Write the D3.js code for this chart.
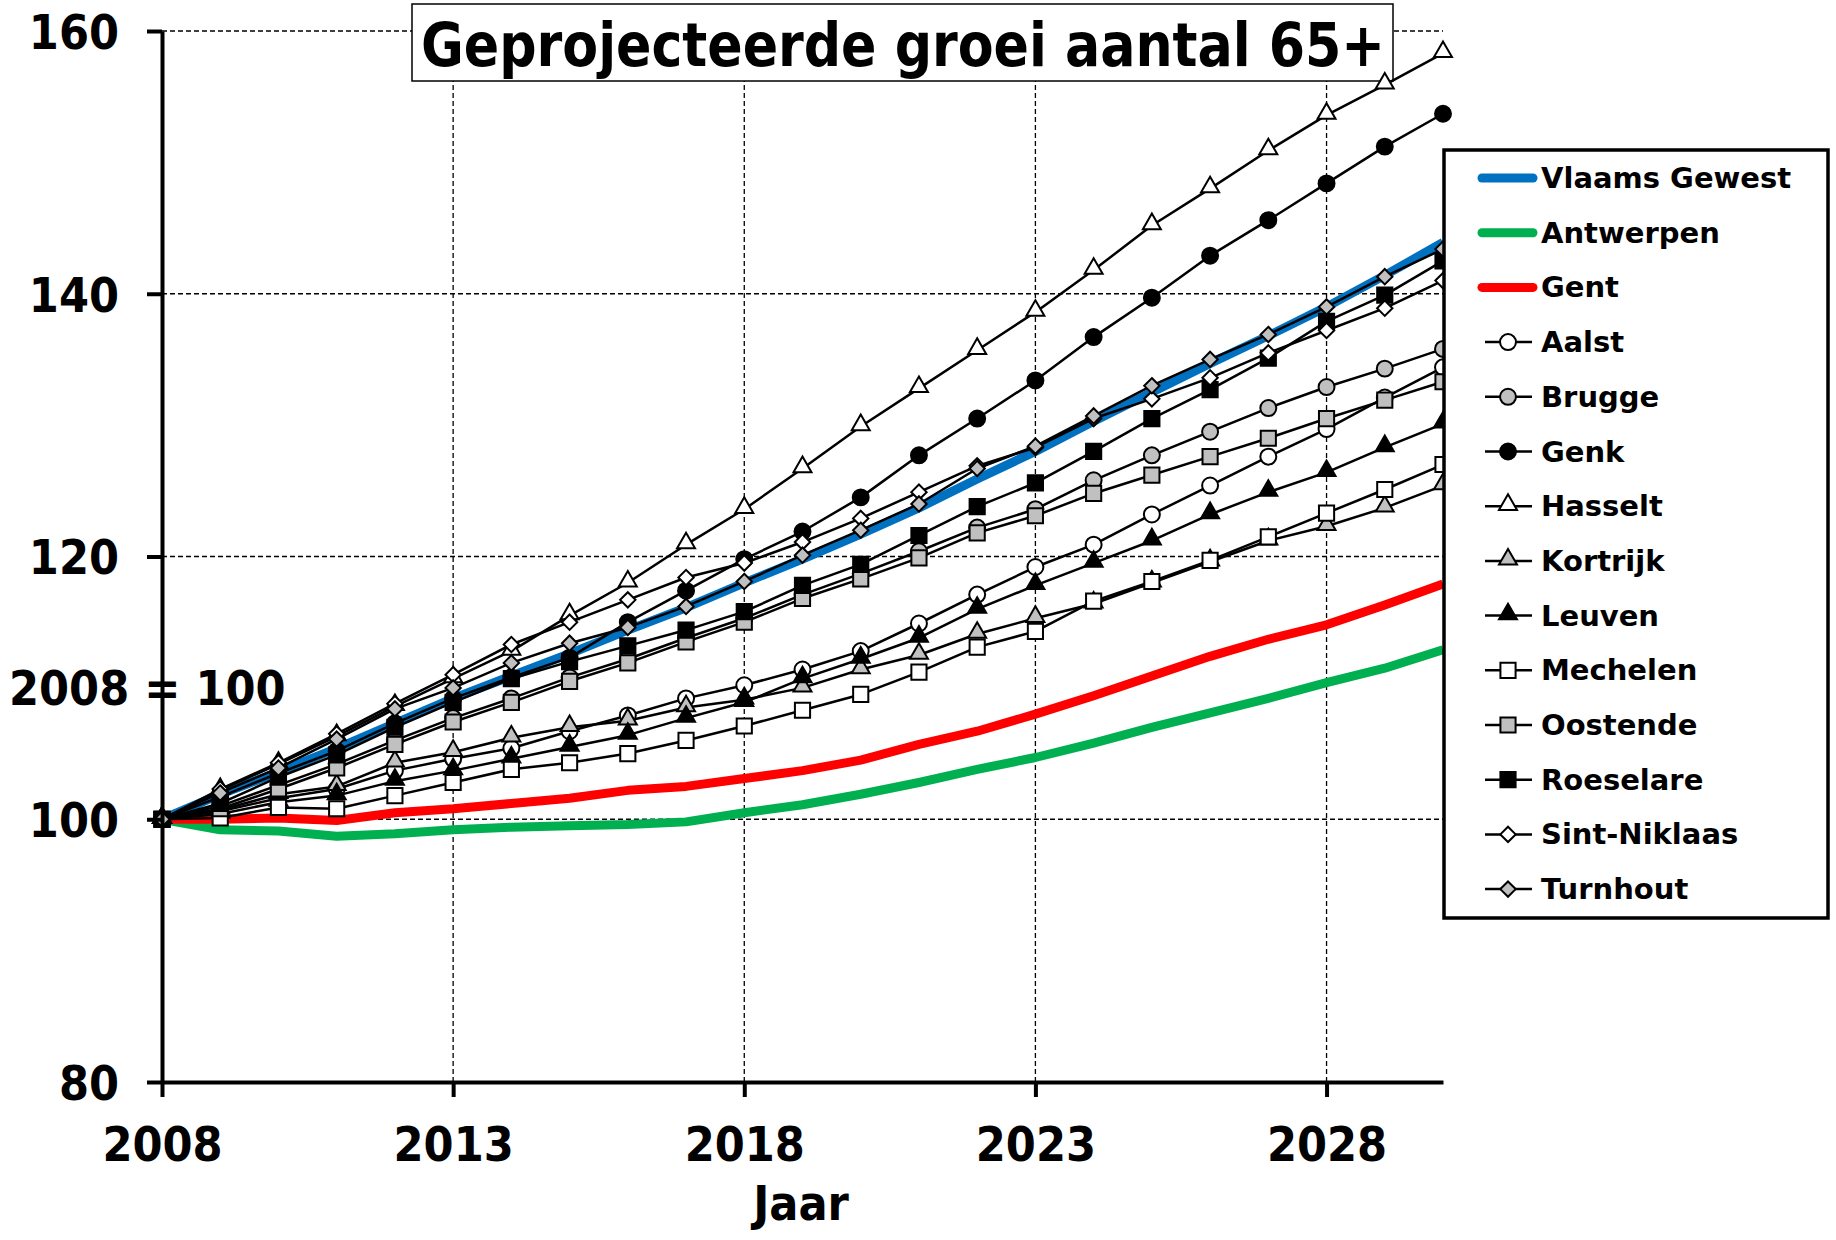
<!DOCTYPE html>
<html>
<head>
<meta charset="utf-8">
<script src="https://cdn.jsdelivr.net/npm/d3@7"></script>
<style>
  body { margin: 0; background: #fff; }
  .cond { font-family: "DejaVu Sans Condensed", "DejaVu Sans", sans-serif; font-stretch: condensed; font-weight: bold; }
  .legtext { font-family: "DejaVu Sans", sans-serif; font-weight: bold; }
  .grid line { stroke: #000; stroke-width: 1.3; stroke-dasharray: 5,3; }
</style>
</head>
<body>
<script>
// data
var years = [2008, 2009, 2010, 2011, 2012, 2013, 2014, 2015, 2016, 2017, 2018, 2019, 2020, 2021, 2022, 2023, 2024, 2025, 2026, 2027, 2028, 2029, 2030];
var xTicks = [2008, 2013, 2018, 2023, 2028];
var yTicks = [80, 100, 120, 140, 160];

var vlaamsGewest = [100, 101.9, 103.6, 105.4, 107.3, 109.2, 110.9, 112.6, 114.4, 116.1, 118.0, 119.8, 121.7, 123.7, 125.9, 128.0, 130.3, 132.5, 134.7, 136.8, 139.0, 141.4, 143.9];
var antwerpen = [100, 99.2, 99.1, 98.7, 98.9, 99.2, 99.4, 99.5, 99.6, 99.8, 100.5, 101.1, 101.9, 102.8, 103.8, 104.7, 105.8, 107.0, 108.1, 109.2, 110.4, 111.5, 112.9];
var gent = [100, 100.0, 100.1, 99.9, 100.5, 100.8, 101.2, 101.6, 102.2, 102.5, 103.1, 103.7, 104.5, 105.7, 106.7, 108.0, 109.4, 110.9, 112.4, 113.7, 114.8, 116.3, 117.9];
var aalst = [100, 100.6, 101.6, 102.3, 103.7, 104.6, 105.4, 106.7, 107.9, 109.2, 110.2, 111.4, 112.8, 114.9, 117.1, 119.2, 120.9, 123.2, 125.4, 127.6, 129.7, 132.1, 134.4];
var brugge = [100, 101.0, 102.6, 104.2, 106.0, 107.7, 109.2, 110.8, 112.2, 113.8, 115.3, 117.1, 118.7, 120.4, 122.2, 123.6, 125.8, 127.7, 129.5, 131.3, 132.9, 134.3, 135.8];
var genk = [100, 101.7, 103.5, 105.2, 107.3, 109.2, 110.8, 112.3, 115.0, 117.4, 119.8, 121.9, 124.5, 127.7, 130.5, 133.4, 136.7, 139.7, 142.9, 145.6, 148.4, 151.2, 153.7];
var hasselt = [100, 102.2, 104.2, 106.3, 108.6, 110.7, 112.8, 115.5, 118.0, 120.9, 123.6, 126.7, 129.9, 132.8, 135.7, 138.6, 141.8, 145.2, 148.0, 150.9, 153.6, 155.9, 158.3];
var kortrijk = [100, 100.7, 101.9, 102.5, 104.3, 105.1, 106.2, 107.0, 107.5, 108.5, 109.1, 110.0, 111.4, 112.5, 114.1, 115.3, 116.4, 118.0, 119.6, 121.2, 122.3, 123.7, 125.4];
var leuven = [100, 100.4, 101.3, 101.8, 102.9, 103.7, 104.6, 105.5, 106.4, 107.7, 108.9, 110.7, 112.2, 113.8, 116.0, 117.8, 119.5, 121.2, 123.2, 124.9, 126.4, 128.3, 130.1];
var mechelen = [100, 100.1, 100.9, 100.8, 101.8, 102.8, 103.8, 104.3, 105.0, 106.0, 107.1, 108.3, 109.5, 111.2, 113.1, 114.3, 116.6, 118.1, 119.7, 121.5, 123.3, 125.1, 127.0];
var oostende = [100, 100.8, 102.3, 103.9, 105.7, 107.4, 108.9, 110.5, 111.9, 113.5, 115.0, 116.8, 118.3, 119.9, 121.8, 123.1, 124.8, 126.2, 127.6, 129.0, 130.5, 131.9, 133.3];
var roeselare = [100, 101.2, 103.2, 104.9, 107.0, 108.9, 110.7, 112.0, 113.2, 114.4, 115.8, 117.8, 119.4, 121.6, 123.8, 125.6, 128.0, 130.5, 132.7, 135.1, 137.9, 139.9, 142.5];
var sintNiklaas = [100, 102.3, 104.3, 106.5, 108.8, 111.0, 113.3, 115.0, 116.7, 118.4, 119.5, 121.1, 122.9, 124.9, 126.9, 128.3, 130.5, 132.0, 133.6, 135.5, 137.2, 138.9, 141.0];
var turnhout = [100, 102.0, 103.9, 106.1, 108.4, 110.0, 111.9, 113.4, 114.6, 116.2, 118.1, 120.1, 122.0, 124.0, 126.7, 128.4, 130.7, 133.0, 135.0, 136.9, 139.0, 141.3, 143.4];

var series = [
    {name: 'Vlaams Gewest', values: vlaamsGewest, color: '#0070c0'},
    {name: 'Antwerpen', values: antwerpen, color: '#00b050'},
    {name: 'Gent', values: gent, color: '#ff0000'},
    {name: 'Aalst', values: aalst, symbol: 'circle', fill: '#fff'},
    {name: 'Brugge', values: brugge, symbol: 'circle', fill: '#c0c0c0'},
    {name: 'Genk', values: genk, symbol: 'circle', fill: '#000'},
    {name: 'Hasselt', values: hasselt, symbol: 'triangle', fill: '#fff'},
    {name: 'Kortrijk', values: kortrijk, symbol: 'triangle', fill: '#c0c0c0'},
    {name: 'Leuven', values: leuven, symbol: 'triangle', fill: '#000'},
    {name: 'Mechelen', values: mechelen, symbol: 'square', fill: '#fff'},
    {name: 'Oostende', values: oostende, symbol: 'square', fill: '#c0c0c0'},
    {name: 'Roeselare', values: roeselare, symbol: 'square', fill: '#000'},
    {name: 'Sint-Niklaas', values: sintNiklaas, symbol: 'diamond', fill: '#fff'},
    {name: 'Turnhout', values: turnhout, symbol: 'diamond', fill: '#c0c0c0'}
];

(function() {
    var w = 1836, h = 1240;
    var svg = d3.select('body').append('svg')
        .attr('width', w).attr('height', h);

    var x = d3.scaleLinear().domain([2008, 2030]).range([162, 1443]);
    var y = d3.scaleLinear().domain([80, 160]).range([1082, 31]);

    // symbol generators, sizes are areas
    var shapes = {
        circle: d3.symbol().type(d3.symbolCircle).size(200),
        triangle: d3.symbol().type(d3.symbolTriangle).size(140),
        square: d3.symbol().type(d3.symbolSquare).size(230),
        diamond: d3.symbol().type(d3.symbolDiamond2).size(150)
    };

    // gridlines
    var grid = svg.append('g').attr('class', 'grid');
    grid.selectAll('.hg').data(yTicks.filter(function(d) { return d > 80; }))
        .enter().append('line')
        .attr('x1', x(2008)).attr('x2', x(2030))
        .attr('y1', y).attr('y2', y);
    grid.selectAll('.vg').data(xTicks.filter(function(d) { return d > 2008; }))
        .enter().append('line')
        .attr('x1', x).attr('x2', x)
        .attr('y1', y(80)).attr('y2', y(160));

    // title box
    var tg = svg.append('g');
    tg.append('rect')
        .attr('x', 412).attr('y', 4).attr('width', 981).attr('height', 77)
        .attr('fill', '#fff').attr('stroke', '#000').attr('stroke-width', 1.5);
    tg.append('text')
        .attr('class', 'cond')
        .attr('x', 421).attr('y', 66)
        .attr('font-size', 60)
        .attr('textLength', 964)
        .attr('lengthAdjust', 'spacingAndGlyphs')
        .text('Geprojecteerde groei aantal 65+');

    // lines and markers
    var line = d3.line()
        .x(function(d, i) { return x(years[i]); })
        .y(function(d) { return y(d); });

    series.forEach(function(s) {
        var g = svg.append('g');
        g.append('path')
            .attr('d', line(s.values))
            .attr('fill', 'none')
            .attr('stroke', s.color || '#000')
            .attr('stroke-width', s.color ? 9 : 2.5)
            .attr('stroke-linejoin', 'round');
        if (s.symbol) {
            g.selectAll('path.mk').data(s.values).enter()
                .append('path')
                .attr('class', 'mk')
                .attr('d', shapes[s.symbol])
                .attr('transform', function(d, i) {
                    var dy = s.symbol === 'triangle' ? -1.5 : 0;
                    return 'translate(' + x(years[i]) + ',' + (y(d) + dy) + ')';
                })
                .attr('fill', s.fill)
                .attr('stroke', '#000')
                .attr('stroke-width', 2);
        }
    });

    // axes
    var yAxis = d3.axisLeft(y).tickValues(yTicks).tickSize(15).tickSizeOuter(0).tickPadding(28);
    var xAxis = d3.axisBottom(x).tickValues(xTicks).tickSize(15).tickSizeOuter(0)
        .tickFormat(d3.format('d')).tickPadding(30);

    var ya = svg.append('g').attr('transform', 'translate(' + x(2008) + ',0)').call(yAxis);
    var xa = svg.append('g').attr('transform', 'translate(0,' + y(80) + ')').call(xAxis);
    [ya, xa].forEach(function(a) {
        a.select('.domain').attr('stroke-width', 4);
        a.selectAll('.tick line').attr('stroke-width', 4);
        a.selectAll('.tick text')
            .attr('class', 'cond')
            .attr('font-size', 48)
            .attr('fill', '#000');
    });
    ya.selectAll('.tick text').attr('dy', '0.36em');

    svg.append('text')
        .attr('class', 'cond')
        .attr('x', 801).attr('y', 1220)
        .attr('text-anchor', 'middle')
        .attr('font-size', 48)
        .text('Jaar');

    svg.append('text')
        .attr('class', 'cond')
        .attr('x', 9).attr('y', 705)
        .attr('font-size', 48)
        .text('2008 = 100');

    // legend
    var lg = svg.append('g');
    lg.append('rect')
        .attr('x', 1444).attr('y', 150).attr('width', 384).attr('height', 768)
        .attr('fill', '#fff').attr('stroke', '#000').attr('stroke-width', 3.5);
    var items = lg.selectAll('g.item').data(series).enter()
        .append('g')
        .attr('transform', function(d, i) { return 'translate(0,' + (178 + i * 54.7) + ')'; });
    items.append('line')
        .attr('x1', function(d) { return d.color ? 1482 : 1485; })
        .attr('x2', function(d) { return d.color ? 1533 : 1532; })
        .attr('stroke', function(d) { return d.color || '#000'; })
        .attr('stroke-width', function(d) { return d.color ? 9 : 2.5; })
        .attr('stroke-linecap', function(d) { return d.color ? 'round' : 'butt'; });
    items.filter(function(d) { return d.symbol; })
        .append('path')
        .attr('d', function(d) { return shapes[d.symbol](); })
        .attr('transform', function(d) { return 'translate(1508,' + (d.symbol === 'triangle' ? -1.5 : 0) + ')'; })
        .attr('fill', function(d) { return d.fill; })
        .attr('stroke', '#000')
        .attr('stroke-width', 2);
    items.append('text')
        .attr('class', 'legtext')
        .attr('x', 1541).attr('y', 10)
        .attr('font-size', 29)
        .text(function(d) { return d.name; });
})();
</script>
</body>
</html>
